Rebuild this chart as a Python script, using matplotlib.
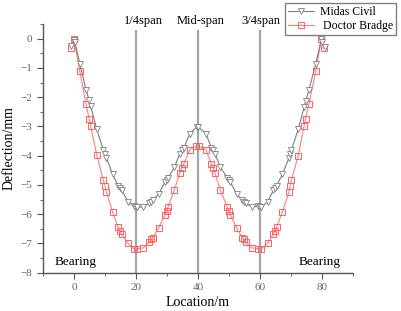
import numpy as np
import matplotlib.pyplot as plt

plt.rcParams['font.family'] = ['Liberation Serif', 'DejaVu Serif']

# Doctor Bridge (red squares)
x_db = [-0.8, 0.0, 1.9, 3.9, 4.9, 5.4, 7.4, 9.5, 10.1, 10.5, 12.5, 14.3, 14.8, 15.4,
        17.5, 19.3, 20.3, 22.4, 24.3, 25.0, 25.5, 27.4, 29.4, 29.9, 30.4, 32.4, 34.2,
        34.8, 35.5, 37.4, 39.4, 40.3, 42.6, 44.4, 45.0, 45.5, 47.3, 49.5, 50.0, 50.5,
        52.5, 54.3, 54.9, 55.4, 57.5, 59.5, 60.5, 62.5, 64.4, 65.0, 65.4, 67.3, 69.4,
        69.8, 70.2, 72.4, 74.3, 74.8, 75.9, 78.1, 79.9, 80.6]
y_db = [-0.33, 0.0, -1.11, -2.22, -2.73, -2.99, -3.98, -4.84, -5.04, -5.25, -5.92, -6.45,
        -6.57, -6.68, -7.0, -7.18, -7.18, -7.15, -6.96, -6.86, -6.8, -6.46, -6.03, -5.9,
        -5.75, -5.18, -4.58, -4.42, -4.27, -3.8, -3.68, -3.68, -3.8, -4.27, -4.42, -4.59,
        -5.18, -5.75, -5.9, -6.03, -6.46, -6.8, -6.86, -6.96, -7.15, -7.18, -7.18, -7.0,
        -6.68, -6.57, -6.45, -5.92, -5.25, -5.04, -4.84, -4.0, -2.99, -2.73, -2.22, -1.11,
        0.0, -0.33]

# Midas Civil (gray triangles)
x_mc = [-0.8, 0.0, 0.3, 1.9, 3.9, 4.9, 5.4, 7.4, 9.5, 10.1, 10.5, 12.5, 14.3, 14.8, 15.4,
        17.5, 19.3, 20.0, 20.3, 22.4, 24.3, 25.0, 25.5, 27.4, 29.4, 29.9, 30.4, 32.4, 34.2,
        34.8, 35.5, 37.4, 39.6, 40.2, 42.6, 44.4, 45.0, 45.5, 47.3, 49.5, 50.0, 50.5,
        52.5, 54.3, 54.9, 55.4, 57.5, 59.5, 60.0, 60.5, 62.5, 64.4, 65.0, 65.4, 67.3, 69.4,
        69.8, 70.2, 72.4, 74.3, 74.8, 75.9, 78.1, 79.9, 80.2, 80.9]
y_mc = [-0.26, -0.03, -0.1, -0.85, -1.74, -2.1, -2.31, -3.1, -3.81, -3.95, -4.08, -4.63,
        -5.04, -5.12, -5.18, -5.58, -5.73, -5.76, -5.76, -5.75, -5.63, -5.57, -5.52, -5.3,
        -4.9, -4.82, -4.75, -4.4, -3.93, -3.82, -3.73, -3.25, -3.02, -3.02, -3.25, -3.73,
        -3.82, -3.93, -4.4, -4.75, -4.82, -4.9, -5.3, -5.52, -5.57, -5.63, -5.75, -5.73,
        -5.76, -5.75, -5.58, -5.18, -5.12, -5.04, -4.63, -4.08, -3.95, -3.81, -3.1, -2.35,
        -2.14, -1.74, -0.85, 0.0, -0.11, -0.28]

span_x = [20, 40, 60]
span_labels = ['1/4span', 'Mid-span', '3/4span']
span_label_x = [22.4, 41.0, 60.4]

fig = plt.figure(figsize=(4.01, 3.11), dpi=100)
ax = fig.add_axes([0.107, 0.123, 0.7726, 0.7998])

ax.vlines(span_x, -8, 0.28, color='#a6a6a6', linewidth=1.6, zorder=1)
for xl, lab in zip(span_label_x, span_labels):
    ax.text(xl, 0.6, lab, ha='center', va='center', fontsize=9, clip_on=False)

ax.plot(x_mc, y_mc, color='#7f7f7f', linewidth=0.8, marker='v', markersize=5,
        markerfacecolor='white', markeredgecolor='#7f7f7f', markeredgewidth=0.6,
        label='Midas Civil', zorder=3)
ax.plot(x_db, y_db, color='#ff7f7f', linewidth=0.8, marker='s', markersize=4.5,
        markerfacecolor='none', markeredgecolor='#ff6060', markeredgewidth=0.7,
        label=' Doctor Bradge', zorder=2)

ax.text(0.6, -7.62, 'Bearing', ha='center', va='center', fontsize=9.5)
ax.text(79.4, -7.62, 'Bearing', ha='center', va='center', fontsize=9.5)

ax.set_xlim(-10, 90)
ax.set_ylim(-8, 0.5)
ax.set_xticks([0, 20, 40, 60, 80])
ax.set_xticks([-10, 10, 30, 50, 70, 90], minor=True)
ax.set_yticks(np.arange(-8, 1, 1))
ax.set_yticks(np.arange(-7.5, 0.6, 1), minor=True)
ax.set_yticklabels(['\u22128', '\u22127', '\u22126', '\u22125', '\u22124',
                    '\u22123', '\u22122', '\u22121', '0'])

for s in ['top', 'right']:
    ax.spines[s].set_visible(False)
for s in ['left', 'bottom']:
    ax.spines[s].set_color('#555555')
    ax.spines[s].set_linewidth(1.0)
ax.tick_params(which='both', direction='out', colors='#555555', labelcolor='#666666',
               labelsize=8)
ax.tick_params(which='major', length=4)
ax.tick_params(which='minor', length=2.5)

ax.set_xlabel('Location/m', fontsize=10, labelpad=3)
ax.set_ylabel('Deflection/mm', fontsize=10, labelpad=4)

leg = ax.legend(loc='upper right', bbox_to_anchor=(396 / 401, 1 - 3 / 311),
                bbox_transform=fig.transFigure, fontsize=8.5, fancybox=False,
                edgecolor='#808080', framealpha=1, borderpad=0.25, labelspacing=0.15,
                handlelength=2.2, handletextpad=0.5, borderaxespad=0)
leg.get_frame().set_linewidth(1.0)

fig.savefig('out.png', dpi=100)
